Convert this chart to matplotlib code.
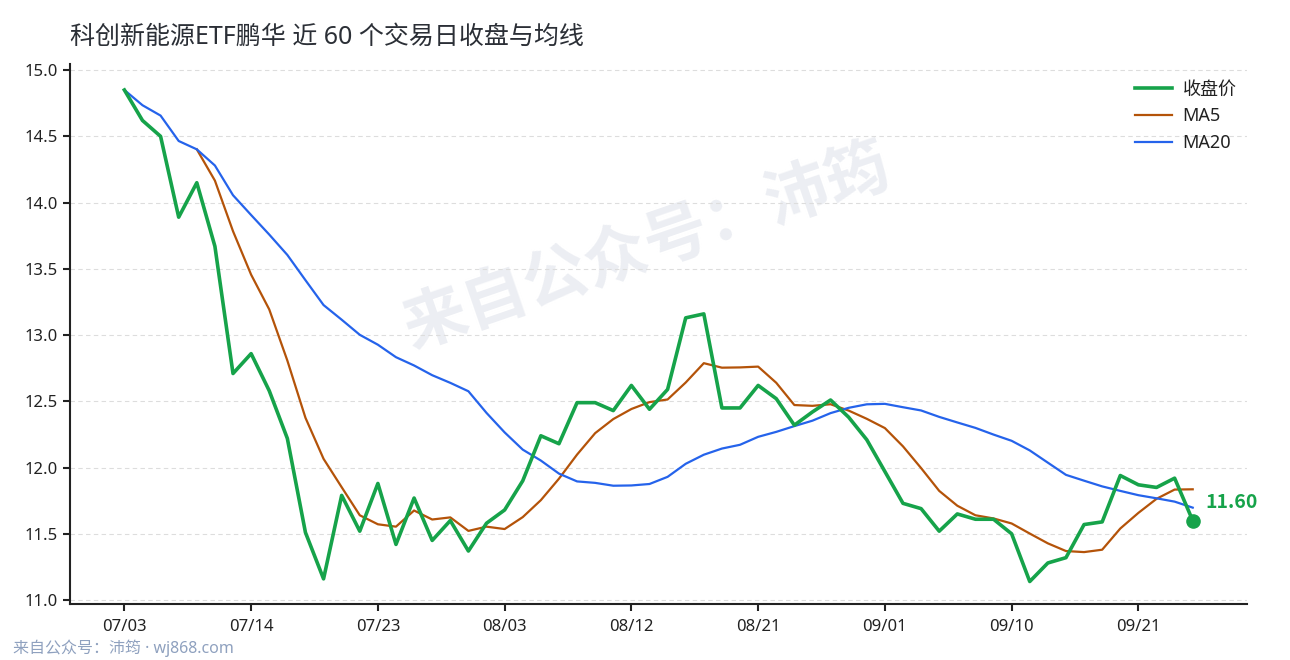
import numpy as np
import pandas as pd
import matplotlib
matplotlib.use("Agg")
import matplotlib.pyplot as plt

plt.rcParams['font.family'] = ['Noto Sans', 'Noto Sans CJK SC', 'DejaVu Sans']

# 近 60 个交易日收盘价
close = [14.85, 14.62, 14.50, 13.89, 14.15, 13.67, 12.71, 12.86, 12.58, 12.22,
         11.51, 11.16, 11.79, 11.52, 11.88, 11.42, 11.77, 11.45, 11.60, 11.37,
         11.58, 11.68, 11.90, 12.24, 12.18, 12.49, 12.49, 12.43, 12.62, 12.44,
         12.59, 13.13, 13.16, 12.45, 12.45, 12.62, 12.52, 12.32, 12.42, 12.51,
         12.38, 12.21, 11.97, 11.73, 11.69, 11.52, 11.65, 11.61, 11.61, 11.50,
         11.14, 11.28, 11.32, 11.57, 11.59, 11.94, 11.87, 11.85, 11.92, 11.60]
tick_pos = [0, 7, 14, 21, 28, 35, 42, 49, 56]
tick_labels = ['07/03', '07/14', '07/23', '08/03', '08/12', '08/21', '09/01', '09/10', '09/21']
y_ticks = [11.0, 11.5, 12.0, 12.5, 13.0, 13.5, 14.0, 14.5, 15.0]

s = pd.Series(close)
ma5 = s.rolling(5).mean()
ma20 = s.rolling(20, min_periods=1).mean()
x = np.arange(len(close))

green = '#16a34a'
orange = '#b45309'
blue = '#2563eb'

fig = plt.figure(figsize=(12.9, 6.6), dpi=100)
ax = fig.add_axes([0.0543, 0.0848, 0.9124, 0.818])

ax.plot(x, close, color=green, lw=2.6, label='收盘价', zorder=4)
ax.plot(x, ma5, color=orange, lw=1.6, label='MA5', zorder=3)
ax.plot(x, ma20, color=blue, lw=1.6, label='MA20', zorder=3)

# 最后一个收盘点
ax.scatter([x[-1]], [close[-1]], s=90, color=green, zorder=5)
ax.annotate(f'{close[-1]:.2f}', (x[-1], close[-1]), xytext=(9, 6),
            textcoords='offset points', color=green, fontsize=14,
            fontweight='bold', va='bottom', ha='left',
            family=['Noto Sans CJK SC'])

ax.set_xlim(-3, 62)
ax.set_ylim(10.97, 15.045)
ax.set_xticks(tick_pos)
ax.set_xticklabels(tick_labels)
ax.set_yticks(y_ticks)
ax.set_yticklabels([f'{v:.1f}' for v in y_ticks])
ax.tick_params(labelsize=12, length=5, width=1.5, colors='#222222')
ax.tick_params(axis='x', pad=6)
ax.tick_params(axis='y', pad=4)

for side in ['top', 'right']:
    ax.spines[side].set_visible(False)
for side in ['left', 'bottom']:
    ax.spines[side].set_linewidth(1.5)
    ax.spines[side].set_color('#222222')

ax.grid(axis='y', linestyle=(0, (4, 3)), color='#dddddd', lw=0.8)
ax.set_axisbelow(True)

# 水印
ax.text(0.49, 0.66, '来自公众号：沛筠', transform=ax.transAxes, fontsize=46,
        fontweight='bold', color='#eceef3', rotation=19, ha='center',
        va='center', zorder=0.5, family=['Noto Sans CJK SC'])

leg = ax.legend(loc='upper right', frameon=False, fontsize=13,
                handlelength=2.05, handletextpad=0.6, labelspacing=0.5,
                bbox_to_anchor=(1.005, 1.0))
for t in leg.get_texts():
    t.set_color('#222222')

fig.text(0.0543, 0.944, '科创新能源ETF鹏华 近 60 个交易日收盘与均线',
         fontsize=18, color='#2b2f36', ha='left', va='center')
fig.text(0.01, 0.018, '来自公众号：沛筠 · wj868.com', fontsize=11.5,
         color='#8fa1bf', ha='left', va='center')

fig.savefig('out.png', dpi=100)
